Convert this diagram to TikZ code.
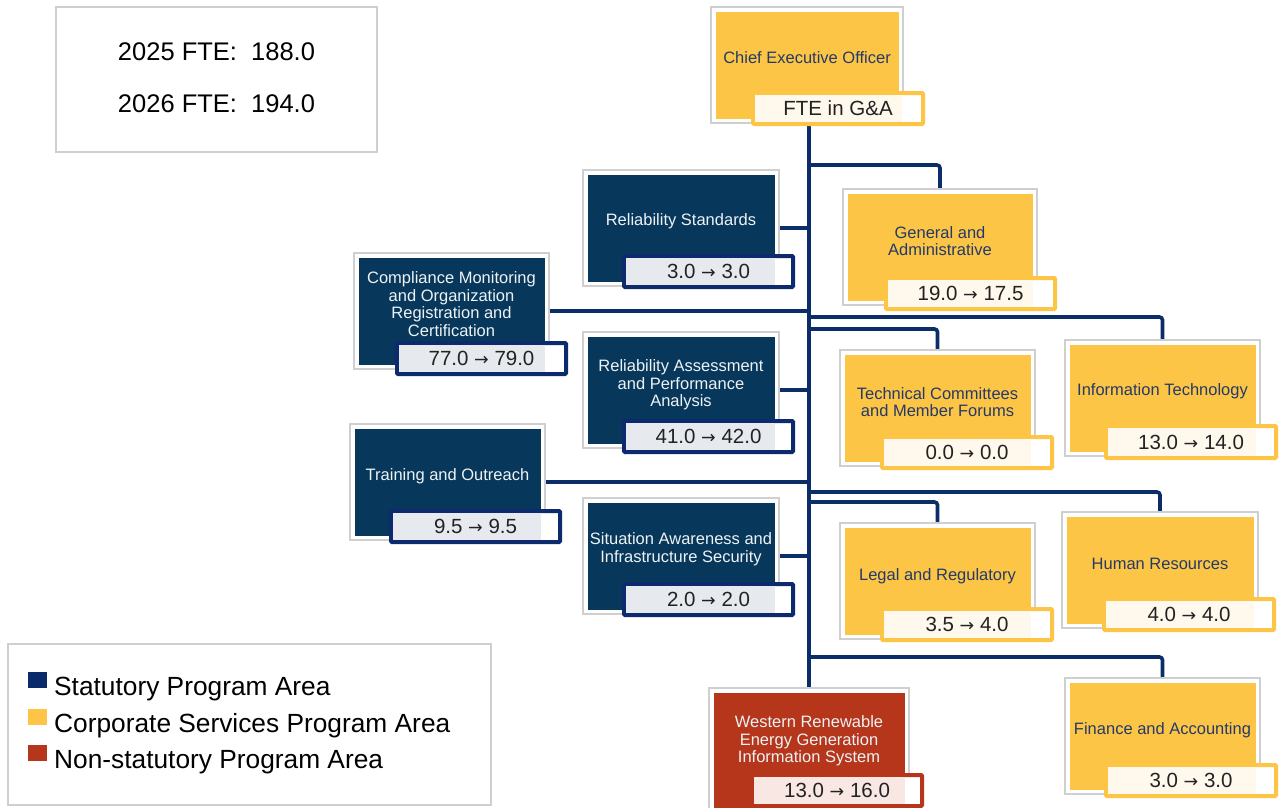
\documentclass[tikz,border=0pt]{standalone}
\usepackage{fontspec}
\setmainfont{Liberation Sans}
\newfontfamily\arrowfont{DejaVu Sans}
\usepackage{graphicx}
\usetikzlibrary{backgrounds}
\definecolor{navybox}{HTML}{07385B}
\definecolor{navyedge}{HTML}{0E2A6E}
\definecolor{navylight}{HTML}{E6E9EE}
\definecolor{yellowbox}{HTML}{FDC546}
\definecolor{yellowlight}{HTML}{FFF8EC}
\definecolor{redbox}{HTML}{B5361A}
\definecolor{redlight}{HTML}{F8E7E2}
\definecolor{connc}{HTML}{0C2E68}
\definecolor{grayedge}{HTML}{CFCFCF}
\definecolor{ytext}{HTML}{243A68}
\definecolor{wtext}{HTML}{EEF2F5}
\definecolor{vtext}{HTML}{222222}
\definecolor{legnavy}{HTML}{0A2A6A}
\newcommand\myarr{{\arrowfont\scalebox{0.85}{→}}}
\tikzset{
  outerbox/.style={rectangle, draw=grayedge, line width=1.2pt, fill=white, inner sep=0pt},
  fillbox/.style={rectangle, draw=none, inner sep=0pt},
  valframe/.style={rectangle, fill=white, line width=4pt, inner sep=0pt, rounded corners=1pt},
  ytxt/.style={align=center, text=ytext, font=\fontsize{16.5}{17.5}\selectfont, inner sep=0pt},
  wtxt/.style={align=center, text=wtext, font=\fontsize{16.5}{17.5}\selectfont, inner sep=0pt},
  vtxt/.style={text=vtext, font=\fontsize{20.5}{22}\selectfont, inner sep=0pt},
  conn/.style={draw=connc, line width=3.6pt, rounded corners=3pt},
  legtxt/.style={anchor=base west, font=\fontsize{26.3}{28}\selectfont, text=black, inner sep=0pt},
  ftetxt/.style={anchor=base, font=\fontsize{25.5}{27}\selectfont, text=black, inner sep=0pt},
}
% #1 name, #2 x1, #3 y1, #4 x2, #5 y2, #6 fill colour
\newcommand\orgbox[6]{%
  \node[outerbox, minimum width={#4-#2}, minimum height={#5-#3}] (#1) at ({(#2+#4)/2},{(#3+#5)/2}) {};
  \node[fillbox, fill=#6, minimum width={#4-#2-9}, minimum height={#5-#3-9}] (#1f) at (#1.center) {};
}
% #1 name, #2 x1, #3 y1, #4 x2, #5 y2, #6 border colour, #7 light colour, #8 light end x, #9 text
\newcommand\valbox[9]{%
  \node[valframe, draw=#6, minimum width={#4-#2-4}, minimum height={#5-#3-4}] (#1) at ({(#2+#4)/2},{(#3+#5)/2}) {};
  \fill[#7] ({#2+4},{#3+4}) rectangle (#8,{#5-4});
  \node[vtxt] (#1t) at (#1.center) {#9};
}
\begin{document}
\begin{tikzpicture}[x=1pt,y=-1pt]
\useasboundingbox (0,0) rectangle (1284,807);

% FTE summary box
\node[draw=grayedge, line width=1.2pt, minimum width=321, minimum height=145, inner sep=0pt] (fte) at (216.5,79.5) {};
\node[ftetxt] (fte1) at (216.5,60) {2025 FTE:\ \ 188.0};
\node[ftetxt] (fte2) at (216.5,112) {2026 FTE:\ \ 194.0};

% legend
\node[draw=grayedge, line width=1.2pt, minimum width=483, minimum height=161, inner sep=0pt] (leg) at (249.5,724.5) {};
\node[fill=legnavy, minimum width=19, minimum height=16, inner sep=0pt] (sq1) at (37,680) {};
\node[fill=yellowbox, minimum width=19, minimum height=16, inner sep=0pt] (sq2) at (37,717) {};
\node[fill=redbox, minimum width=19, minimum height=16, inner sep=0pt] (sq3) at (37,753) {};
\node[legtxt] (l1) at (54,695) {Statutory Program Area};
\node[legtxt] (l2) at (54,732) {Corporate Services Program Area};
\node[legtxt] (l3) at (54,768) {Non-statutory Program Area};

% boxes
\orgbox{ceo}{711}{7}{903}{123}{yellowbox}
\node[ytxt] (ceot) at (807,58) {Chief Executive Officer};
\valbox{ceov}{751}{91}{925}{126}{yellowbox}{yellowlight}{902}{FTE in G\&A}

\orgbox{rs}{583}{170}{779}{286}{navybox}
\node[wtxt] (rst) at (681,221) {Reliability Standards};
\valbox{rsv}{622}{254}{795}{289}{navyedge}{navylight}{775}{3.0 \myarr\ 3.0}

\orgbox{cm}{354}{253}{549}{369}{navybox}
\node[wtxt] (cmt) at (451.5,304) {Compliance Monitoring\\and Organization\\Registration and\\Certification};
\valbox{cmv}{395}{341}{568}{376}{navyedge}{navylight}{545}{77.0 \myarr\ 79.0}

\orgbox{ga}{843}{189}{1037}{305}{yellowbox}
\node[ytxt] (gat) at (940,241) {General and\\Administrative};
\valbox{gav}{884}{276}{1057}{311}{yellowbox}{yellowlight}{1033}{19.0 \myarr\ 17.5}

\orgbox{ra}{583}{332}{779}{448}{navybox}
\node[wtxt] (rat) at (681,385) {Reliability Assessment\\and Performance\\Analysis};
\valbox{rav}{622}{419}{795}{454}{navyedge}{navylight}{775}{41.0 \myarr\ 42.0}

\orgbox{tc}{840}{350}{1035}{466}{yellowbox}
\node[ytxt] (tct) at (937.5,402) {Technical Committees\\and Member Forums};
\valbox{tcv}{880}{435}{1054}{470}{yellowbox}{yellowlight}{1031}{0.0 \myarr\ 0.0}

\orgbox{it}{1065}{340}{1260}{456}{yellowbox}
\node[ytxt] (itt) at (1162.5,391) {Information Technology};
\valbox{itv}{1104}{424}{1278}{460}{yellowbox}{yellowlight}{1256}{13.0 \myarr\ 14.0}

\orgbox{tr}{350}{424}{545}{540}{navybox}
\node[wtxt] (trt) at (447.5,476) {Training and Outreach};
\valbox{trv}{389}{509}{562}{544}{navyedge}{navylight}{541}{9.5 \myarr\ 9.5}

\orgbox{sa}{583}{498}{779}{614}{navybox}
\node[wtxt] (sat) at (681,549) {Situation Awareness and\\Infrastructure Security};
\valbox{sav}{622}{582}{795}{617}{navyedge}{navylight}{775}{2.0 \myarr\ 2.0}

\orgbox{lg}{840}{523}{1035}{639}{yellowbox}
\node[ytxt] (lgt) at (937.5,576) {Legal and Regulatory};
\valbox{lgv}{880}{607}{1054}{642}{yellowbox}{yellowlight}{1031}{3.5 \myarr\ 4.0}

\orgbox{hr}{1062}{512}{1258}{628}{yellowbox}
\node[ytxt] (hrt) at (1160,564) {Human Resources};
\valbox{hrv}{1102}{597}{1276}{632}{yellowbox}{yellowlight}{1254}{4.0 \myarr\ 4.0}

\orgbox{wr}{709}{688}{909}{814}{redbox}
\node[wtxt] (wrt) at (809,741) {Western Renewable\\Energy Generation\\Information System};
\valbox{wrv}{750}{773}{924}{808}{redbox}{redlight}{905}{13.0 \myarr\ 16.0}

\orgbox{fi}{1065}{678}{1260}{794}{yellowbox}
\node[ytxt] (fit) at (1162.5,730) {Finance and Accounting};
\valbox{fiv}{1104}{763}{1278}{798}{yellowbox}{yellowlight}{1256}{3.0 \myarr\ 3.0}

% connectors
\coordinate (jGA) at (809,165);
\coordinate (jIT) at (809,317);
\coordinate (jTC) at (809,329);
\coordinate (jHR) at (809,492);
\coordinate (jLG) at (809,502);
\coordinate (jFI) at (809,657);
\begin{pgfonlayer}{background}
\draw[conn] (ceov.south -| wr.north) -- (wr.north);
\draw[conn] (jGA) -| (ga.north);
\draw[conn] (rs.east) -- (rs.east -| wr.north);
\draw[conn] (cm.east) -- (cm.east -| wr.north);
\draw[conn] (jIT) -| (it.north);
\draw[conn] (jTC) -| (tc.north);
\draw[conn] (ra.east) -- (ra.east -| wr.north);
\draw[conn] (tr.east) -- (tr.east -| wr.north);
\draw[conn] (jHR) -| (hr.north);
\draw[conn] (jLG) -| (lg.north);
\draw[conn] (sa.east) -- (sa.east -| wr.north);
\draw[conn] (jFI) -| (fi.north);
\end{pgfonlayer}
\end{tikzpicture}
\end{document}
